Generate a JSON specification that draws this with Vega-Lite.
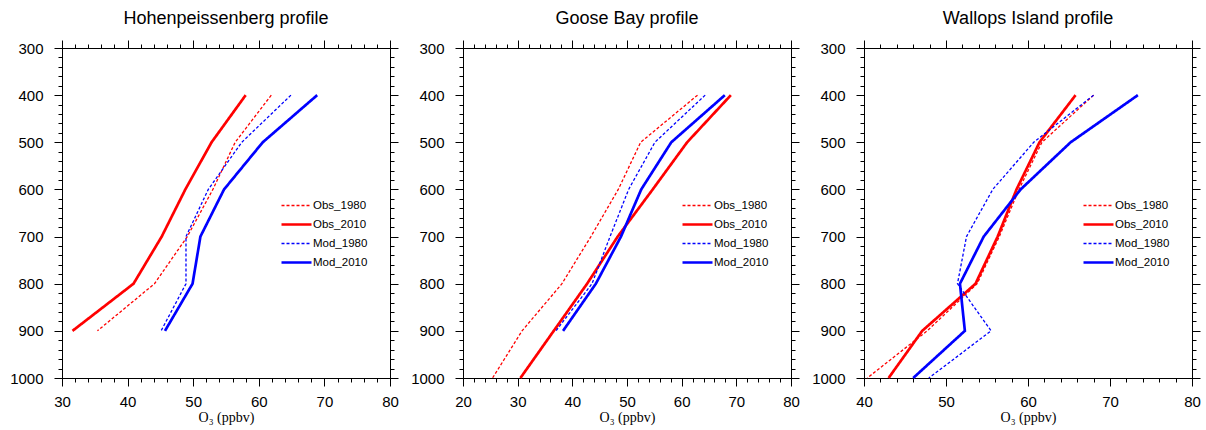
{
  "$schema": "https://vega.github.io/schema/vega-lite/v6.json",
  "padding": {"left": 9, "top": 9, "right": 5, "bottom": 5},
  "background": "white",
  "config": {
    "view": {"stroke": "black", "strokeWidth": 1},
    "axis": {"labelFont": "Liberation Sans", "labelFontSize": 15, "labelColor": "#000", "domainColor": "#000", "tickColor": "#000", "grid": false, "labelOverlap": false, "labelFlush": false, "domainWidth": 1, "tickWidth": 1},
    "title": {"font": "Liberation Sans", "fontSize": 18, "fontWeight": "normal", "color": "#000", "offset": 12},
    "legend": {"orient": "none", "legendX": 218, "legendY": 148, "direction": "vertical", "symbolType": "stroke", "symbolSize": 900, "labelFont": "Liberation Sans", "labelFontSize": 11.5, "labelColor": "#000", "labelOffset": 0, "rowPadding": 0, "clipHeight": 19, "padding": 0, "title": null}
  },
  "datasets": {
    "profiles": [
      {"station": "H", "series": "Obs_1980", "p": 400, "o3": 61.9},
      {"station": "H", "series": "Obs_1980", "p": 500, "o3": 56.4},
      {"station": "H", "series": "Obs_1980", "p": 600, "o3": 53.0},
      {"station": "H", "series": "Obs_1980", "p": 700, "o3": 49.1},
      {"station": "H", "series": "Obs_1980", "p": 800, "o3": 44.1},
      {"station": "H", "series": "Obs_1980", "p": 900, "o3": 35.4},
      {"station": "H", "series": "Obs_2010", "p": 400, "o3": 58.0},
      {"station": "H", "series": "Obs_2010", "p": 500, "o3": 52.8},
      {"station": "H", "series": "Obs_2010", "p": 600, "o3": 48.8},
      {"station": "H", "series": "Obs_2010", "p": 700, "o3": 45.2},
      {"station": "H", "series": "Obs_2010", "p": 800, "o3": 40.9},
      {"station": "H", "series": "Obs_2010", "p": 900, "o3": 31.6},
      {"station": "H", "series": "Mod_1980", "p": 400, "o3": 64.9},
      {"station": "H", "series": "Mod_1980", "p": 500, "o3": 57.4},
      {"station": "H", "series": "Mod_1980", "p": 600, "o3": 52.3},
      {"station": "H", "series": "Mod_1980", "p": 700, "o3": 48.9},
      {"station": "H", "series": "Mod_1980", "p": 800, "o3": 48.9},
      {"station": "H", "series": "Mod_1980", "p": 900, "o3": 45.1},
      {"station": "H", "series": "Mod_2010", "p": 400, "o3": 68.9},
      {"station": "H", "series": "Mod_2010", "p": 500, "o3": 60.6},
      {"station": "H", "series": "Mod_2010", "p": 600, "o3": 54.7},
      {"station": "H", "series": "Mod_2010", "p": 700, "o3": 51.1},
      {"station": "H", "series": "Mod_2010", "p": 800, "o3": 49.9},
      {"station": "H", "series": "Mod_2010", "p": 900, "o3": 45.7},
      {"station": "G", "series": "Obs_1980", "p": 400, "o3": 62.9},
      {"station": "G", "series": "Obs_1980", "p": 500, "o3": 52.5},
      {"station": "G", "series": "Obs_1980", "p": 600, "o3": 48.4},
      {"station": "G", "series": "Obs_1980", "p": 700, "o3": 43.4},
      {"station": "G", "series": "Obs_1980", "p": 800, "o3": 38.1},
      {"station": "G", "series": "Obs_1980", "p": 900, "o3": 30.8},
      {"station": "G", "series": "Obs_1980", "p": 1000, "o3": 25.4},
      {"station": "G", "series": "Obs_2010", "p": 400, "o3": 69.0},
      {"station": "G", "series": "Obs_2010", "p": 500, "o3": 61.0},
      {"station": "G", "series": "Obs_2010", "p": 600, "o3": 54.7},
      {"station": "G", "series": "Obs_2010", "p": 700, "o3": 48.3},
      {"station": "G", "series": "Obs_2010", "p": 800, "o3": 42.7},
      {"station": "G", "series": "Obs_2010", "p": 900, "o3": 36.6},
      {"station": "G", "series": "Obs_2010", "p": 1000, "o3": 30.5},
      {"station": "G", "series": "Mod_1980", "p": 400, "o3": 64.3},
      {"station": "G", "series": "Mod_1980", "p": 500, "o3": 55.1},
      {"station": "G", "series": "Mod_1980", "p": 600, "o3": 50.3},
      {"station": "G", "series": "Mod_1980", "p": 700, "o3": 46.9},
      {"station": "G", "series": "Mod_1980", "p": 800, "o3": 43.6},
      {"station": "G", "series": "Mod_1980", "p": 900, "o3": 37.0},
      {"station": "G", "series": "Mod_2010", "p": 400, "o3": 67.9},
      {"station": "G", "series": "Mod_2010", "p": 500, "o3": 58.1},
      {"station": "G", "series": "Mod_2010", "p": 600, "o3": 52.6},
      {"station": "G", "series": "Mod_2010", "p": 700, "o3": 48.9},
      {"station": "G", "series": "Mod_2010", "p": 800, "o3": 44.3},
      {"station": "G", "series": "Mod_2010", "p": 900, "o3": 38.3},
      {"station": "W", "series": "Obs_1980", "p": 400, "o3": 68.0},
      {"station": "W", "series": "Obs_1980", "p": 500, "o3": 61.7},
      {"station": "W", "series": "Obs_1980", "p": 600, "o3": 58.9},
      {"station": "W", "series": "Obs_1980", "p": 700, "o3": 56.5},
      {"station": "W", "series": "Obs_1980", "p": 800, "o3": 53.8},
      {"station": "W", "series": "Obs_1980", "p": 900, "o3": 47.7},
      {"station": "W", "series": "Obs_1980", "p": 1000, "o3": 40.4},
      {"station": "W", "series": "Obs_2010", "p": 400, "o3": 65.8},
      {"station": "W", "series": "Obs_2010", "p": 500, "o3": 61.4},
      {"station": "W", "series": "Obs_2010", "p": 600, "o3": 58.6},
      {"station": "W", "series": "Obs_2010", "p": 700, "o3": 56.3},
      {"station": "W", "series": "Obs_2010", "p": 800, "o3": 53.6},
      {"station": "W", "series": "Obs_2010", "p": 900, "o3": 47.1},
      {"station": "W", "series": "Obs_2010", "p": 1000, "o3": 43.0},
      {"station": "W", "series": "Mod_1980", "p": 400, "o3": 68.0},
      {"station": "W", "series": "Mod_1980", "p": 500, "o3": 60.7},
      {"station": "W", "series": "Mod_1980", "p": 600, "o3": 55.7},
      {"station": "W", "series": "Mod_1980", "p": 700, "o3": 52.5},
      {"station": "W", "series": "Mod_1980", "p": 800, "o3": 51.4},
      {"station": "W", "series": "Mod_1980", "p": 900, "o3": 55.5},
      {"station": "W", "series": "Mod_1980", "p": 1000, "o3": 47.9},
      {"station": "W", "series": "Mod_2010", "p": 400, "o3": 73.4},
      {"station": "W", "series": "Mod_2010", "p": 500, "o3": 65.2},
      {"station": "W", "series": "Mod_2010", "p": 600, "o3": 59.1},
      {"station": "W", "series": "Mod_2010", "p": 700, "o3": 54.6},
      {"station": "W", "series": "Mod_2010", "p": 800, "o3": 51.7},
      {"station": "W", "series": "Mod_2010", "p": 900, "o3": 52.3},
      {"station": "W", "series": "Mod_2010", "p": 1000, "o3": 46.0}
    ]
  },
  "spacing": 73,
  "bounds": "flush",
  "resolve": {"scale": {"x": "independent", "y": "independent"}, "legend": {"color": "independent", "strokeDash": "independent", "strokeWidth": "independent"}},
  "hconcat": [
    {
      "width": 328, "height": 330,
      "title": "Hohenpeissenberg profile",
      "data": {"name": "profiles"},
      "transform": [{"filter": "datum.station === 'H'"}],
      "layer": [
        {
          "mark": {"type": "line"},
          "encoding": {
            "x": {"field": "o3", "type": "quantitative", "scale": {"domain": [30, 80], "nice": false, "zero": false},
              "axis": {"orient": "bottom", "values": [30,32,34,36,38,40,42,44,46,48,50,52,54,56,58,60,62,64,66,68,70,72,74,76,78,80], "labelExpr": "datum.value % 10 === 0 ? '' + datum.value : ''", "tickSize": {"condition": {"test": "datum.value % 10 === 0", "value": 8}, "value": 4}, "labelPadding": 8, "title": "O₃ (ppbv)", "titleFont": "Liberation Serif", "titleFontSize": 14, "titleFontWeight": "normal", "titleColor": "#000", "titlePadding": 1}},
            "y": {"field": "p", "type": "quantitative", "scale": {"domain": [300, 1000], "reverse": true, "nice": false, "zero": false},
              "axis": {"orient": "left", "values": [300,320,340,360,380,400,420,440,460,480,500,520,540,560,580,600,620,640,660,680,700,720,740,760,780,800,820,840,860,880,900,920,940,960,980,1000], "labelExpr": "datum.value % 100 === 0 ? '' + datum.value : ''", "tickSize": {"condition": {"test": "datum.value % 100 === 0", "value": 8}, "value": 4}, "labelPadding": 11, "title": null}},
            "order": {"field": "p", "type": "quantitative"},
            "color": {"field": "series", "type": "nominal", "scale": {"domain": ["Obs_1980", "Obs_2010", "Mod_1980", "Mod_2010"], "range": ["#ff0000", "#ff0000", "#0000ff", "#0000ff"]}},
            "strokeDash": {"field": "series", "type": "nominal", "scale": {"domain": ["Obs_1980", "Obs_2010", "Mod_1980", "Mod_2010"], "range": [[3, 2], [1, 0], [3, 2], [1, 0]]}},
            "strokeWidth": {"field": "series", "type": "nominal", "scale": {"type": "ordinal", "domain": ["Obs_1980", "Obs_2010", "Mod_1980", "Mod_2010"], "range": [1.3, 2.7, 1.3, 2.7]}}
          }
        },
        {
          "mark": {"type": "line", "opacity": 0},
          "encoding": {
            "x": {"field": "o3", "type": "quantitative", "scale": {"domain": [30, 80], "nice": false, "zero": false},
              "axis": {"orient": "top", "values": [30,32,34,36,38,40,42,44,46,48,50,52,54,56,58,60,62,64,66,68,70,72,74,76,78,80], "labels": false, "tickSize": {"condition": {"test": "datum.value % 10 === 0", "value": 8}, "value": 4}, "title": null}},
            "y": {"field": "p", "type": "quantitative", "scale": {"domain": [300, 1000], "reverse": true, "nice": false, "zero": false},
              "axis": {"orient": "right", "values": [300,320,340,360,380,400,420,440,460,480,500,520,540,560,580,600,620,640,660,680,700,720,740,760,780,800,820,840,860,880,900,920,940,960,980,1000], "labels": false, "tickSize": {"condition": {"test": "datum.value % 100 === 0", "value": 8}, "value": 4}, "title": null}},
            "detail": {"field": "series", "type": "nominal"},
            "order": {"field": "p", "type": "quantitative"}
          }
        }
      ],
      "resolve": {"axis": {"x": "independent", "y": "independent"}}
    },
    {
      "width": 328, "height": 330,
      "title": "Goose Bay profile",
      "data": {"name": "profiles"},
      "transform": [{"filter": "datum.station === 'G'"}],
      "layer": [
        {
          "mark": {"type": "line"},
          "encoding": {
            "x": {"field": "o3", "type": "quantitative", "scale": {"domain": [20, 80], "nice": false, "zero": false},
              "axis": {"orient": "bottom", "values": [20,22,24,26,28,30,32,34,36,38,40,42,44,46,48,50,52,54,56,58,60,62,64,66,68,70,72,74,76,78,80], "labelExpr": "datum.value % 10 === 0 ? '' + datum.value : ''", "tickSize": {"condition": {"test": "datum.value % 10 === 0", "value": 8}, "value": 4}, "labelPadding": 8, "title": "O₃ (ppbv)", "titleFont": "Liberation Serif", "titleFontSize": 14, "titleFontWeight": "normal", "titleColor": "#000", "titlePadding": 1}},
            "y": {"field": "p", "type": "quantitative", "scale": {"domain": [300, 1000], "reverse": true, "nice": false, "zero": false},
              "axis": {"orient": "left", "values": [300,320,340,360,380,400,420,440,460,480,500,520,540,560,580,600,620,640,660,680,700,720,740,760,780,800,820,840,860,880,900,920,940,960,980,1000], "labelExpr": "datum.value % 100 === 0 ? '' + datum.value : ''", "tickSize": {"condition": {"test": "datum.value % 100 === 0", "value": 8}, "value": 4}, "labelPadding": 11, "title": null}},
            "order": {"field": "p", "type": "quantitative"},
            "color": {"field": "series", "type": "nominal", "scale": {"domain": ["Obs_1980", "Obs_2010", "Mod_1980", "Mod_2010"], "range": ["#ff0000", "#ff0000", "#0000ff", "#0000ff"]}},
            "strokeDash": {"field": "series", "type": "nominal", "scale": {"domain": ["Obs_1980", "Obs_2010", "Mod_1980", "Mod_2010"], "range": [[3, 2], [1, 0], [3, 2], [1, 0]]}},
            "strokeWidth": {"field": "series", "type": "nominal", "scale": {"type": "ordinal", "domain": ["Obs_1980", "Obs_2010", "Mod_1980", "Mod_2010"], "range": [1.3, 2.7, 1.3, 2.7]}}
          }
        },
        {
          "mark": {"type": "line", "opacity": 0},
          "encoding": {
            "x": {"field": "o3", "type": "quantitative", "scale": {"domain": [20, 80], "nice": false, "zero": false},
              "axis": {"orient": "top", "values": [20,22,24,26,28,30,32,34,36,38,40,42,44,46,48,50,52,54,56,58,60,62,64,66,68,70,72,74,76,78,80], "labels": false, "tickSize": {"condition": {"test": "datum.value % 10 === 0", "value": 8}, "value": 4}, "title": null}},
            "y": {"field": "p", "type": "quantitative", "scale": {"domain": [300, 1000], "reverse": true, "nice": false, "zero": false},
              "axis": {"orient": "right", "values": [300,320,340,360,380,400,420,440,460,480,500,520,540,560,580,600,620,640,660,680,700,720,740,760,780,800,820,840,860,880,900,920,940,960,980,1000], "labels": false, "tickSize": {"condition": {"test": "datum.value % 100 === 0", "value": 8}, "value": 4}, "title": null}},
            "detail": {"field": "series", "type": "nominal"},
            "order": {"field": "p", "type": "quantitative"}
          }
        }
      ],
      "resolve": {"axis": {"x": "independent", "y": "independent"}}
    },
    {
      "width": 328, "height": 330,
      "title": "Wallops Island profile",
      "data": {"name": "profiles"},
      "transform": [{"filter": "datum.station === 'W'"}],
      "layer": [
        {
          "mark": {"type": "line"},
          "encoding": {
            "x": {"field": "o3", "type": "quantitative", "scale": {"domain": [40, 80], "nice": false, "zero": false},
              "axis": {"orient": "bottom", "values": [40,42,44,46,48,50,52,54,56,58,60,62,64,66,68,70,72,74,76,78,80], "labelExpr": "datum.value % 10 === 0 ? '' + datum.value : ''", "tickSize": {"condition": {"test": "datum.value % 10 === 0", "value": 8}, "value": 4}, "labelPadding": 8, "title": "O₃ (ppbv)", "titleFont": "Liberation Serif", "titleFontSize": 14, "titleFontWeight": "normal", "titleColor": "#000", "titlePadding": 1}},
            "y": {"field": "p", "type": "quantitative", "scale": {"domain": [300, 1000], "reverse": true, "nice": false, "zero": false},
              "axis": {"orient": "left", "values": [300,320,340,360,380,400,420,440,460,480,500,520,540,560,580,600,620,640,660,680,700,720,740,760,780,800,820,840,860,880,900,920,940,960,980,1000], "labelExpr": "datum.value % 100 === 0 ? '' + datum.value : ''", "tickSize": {"condition": {"test": "datum.value % 100 === 0", "value": 8}, "value": 4}, "labelPadding": 11, "title": null}},
            "order": {"field": "p", "type": "quantitative"},
            "color": {"field": "series", "type": "nominal", "scale": {"domain": ["Obs_1980", "Obs_2010", "Mod_1980", "Mod_2010"], "range": ["#ff0000", "#ff0000", "#0000ff", "#0000ff"]}},
            "strokeDash": {"field": "series", "type": "nominal", "scale": {"domain": ["Obs_1980", "Obs_2010", "Mod_1980", "Mod_2010"], "range": [[3, 2], [1, 0], [3, 2], [1, 0]]}},
            "strokeWidth": {"field": "series", "type": "nominal", "scale": {"type": "ordinal", "domain": ["Obs_1980", "Obs_2010", "Mod_1980", "Mod_2010"], "range": [1.3, 2.7, 1.3, 2.7]}}
          }
        },
        {
          "mark": {"type": "line", "opacity": 0},
          "encoding": {
            "x": {"field": "o3", "type": "quantitative", "scale": {"domain": [40, 80], "nice": false, "zero": false},
              "axis": {"orient": "top", "values": [40,42,44,46,48,50,52,54,56,58,60,62,64,66,68,70,72,74,76,78,80], "labels": false, "tickSize": {"condition": {"test": "datum.value % 10 === 0", "value": 8}, "value": 4}, "title": null}},
            "y": {"field": "p", "type": "quantitative", "scale": {"domain": [300, 1000], "reverse": true, "nice": false, "zero": false},
              "axis": {"orient": "right", "values": [300,320,340,360,380,400,420,440,460,480,500,520,540,560,580,600,620,640,660,680,700,720,740,760,780,800,820,840,860,880,900,920,940,960,980,1000], "labels": false, "tickSize": {"condition": {"test": "datum.value % 100 === 0", "value": 8}, "value": 4}, "title": null}},
            "detail": {"field": "series", "type": "nominal"},
            "order": {"field": "p", "type": "quantitative"}
          }
        }
      ],
      "resolve": {"axis": {"x": "independent", "y": "independent"}}
    }
  ]
}
